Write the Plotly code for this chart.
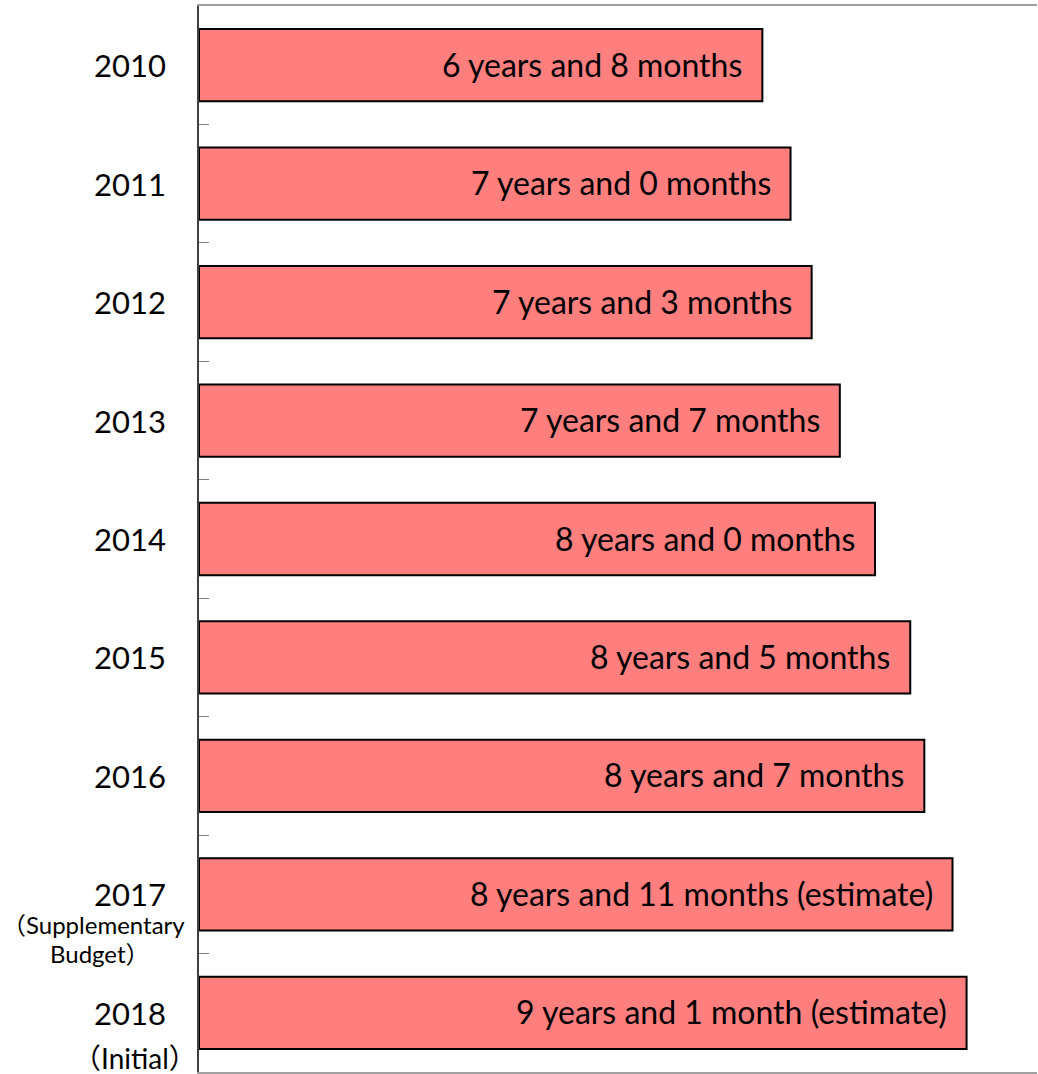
import plotly.graph_objects as go

years = ["2010", "2011", "2012", "2013", "2014", "2015", "2016", "2017", "2018"]
months = [80, 84, 87, 91, 96, 101, 103, 107, 109]
bar_labels = [
    "6 years and 8 months",
    "7 years and 0 months",
    "7 years and 3 months",
    "7 years and 7 months",
    "8 years and 0 months",
    "8 years and 5 months",
    "8 years and 7 months",
    "8 years and 11 months (estimate)",
    "9 years and 1 month (estimate)",
]
sub_labels = {"2017": ["（Supplementary", "Budget）"], "2018": ["（Initial）"]}

FONT = "Lato, 'Noto Sans CJK JP', sans-serif"

fig = go.Figure()
fig.add_trace(go.Bar(
    y=years, x=months, orientation="h",
    marker=dict(color="#FF7F7F", line=dict(color="#000000", width=2)),
    hoverinfo="skip",
))

annotations = []
for i, (y, m, t) in enumerate(zip(years, months, bar_labels)):
    annotations.append(dict(x=m, y=i, xref="x", yref="y", text=t, showarrow=False,
                            xanchor="right", xshift=-18, yshift=1,
                            font=dict(family=FONT, size=32, color="#000000")))
    annotations.append(dict(x=0, y=i, xref="paper", yref="y", text=y, showarrow=False,
                            xanchor="right", xshift=-31,
                            font=dict(family=FONT, size=31, color="#000000")))

sub_pos = {"2017": [(-106, -30), (-99, -59)], "2018": [(-64, -45)]}
for y, lines in sub_labels.items():
    i = years.index(y)
    for (dx, dy), t in zip(sub_pos[y], lines):
        annotations.append(dict(x=0, y=i, xref="paper", yref="y", text=t, showarrow=False,
                                xanchor="center", xshift=dx, yshift=dy,
                                font=dict(family=FONT, size=24 if y == "2017" else 28, color="#000000")))

fig.update_layout(
    width=1038, height=1074,
    margin=dict(l=199, r=1, t=6, b=2),
    plot_bgcolor="white", paper_bgcolor="white",
    showlegend=False, bargap=0.39,
    annotations=annotations,
    xaxis=dict(range=[0, 119], showgrid=False, zeroline=False, showticklabels=False,
               showline=True, mirror=True, linecolor="#A0A0A0", linewidth=2, ticks=""),
    yaxis=dict(type="category", range=[len(years) - 0.5, -0.5], showgrid=False, zeroline=False,
               showticklabels=False, showline=True, linecolor="#404040", linewidth=1.5,
               ticks="inside", ticklen=10, tickcolor="#808080", tickwidth=1,
               tickson="boundaries"),
)
fig.write_html("out.html", config={"displayModeBar": False},
               post_script="document.body.style.margin='0';document.body.style.overflow='hidden';")
